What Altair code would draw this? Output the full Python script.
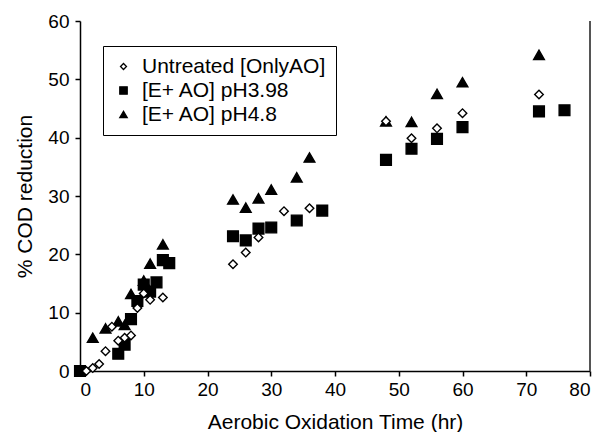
import altair as alt
import pandas as pd

series_names = ["Untreated [OnlyAO]", "[E+ AO] pH3.98", "[E+ AO] pH4.8"]

untreated_x = [1, 2, 3, 4, 5, 6, 7, 8, 9, 10, 11, 13, 24, 26, 28, 32, 36, 48, 52, 56, 60, 72]
untreated_y = [0.0, 0.5, 1.2, 3.4, 7.6, 5.2, 5.7, 6.1, 10.8, 13.3, 12.2, 12.6, 18.3, 20.3, 22.9, 27.4, 27.9, 42.8, 39.9, 41.6, 44.2, 47.4]

ph398_x = [0, 6, 7, 8, 9, 10, 11, 12, 13, 14, 24, 26, 28, 30, 34, 38, 48, 52, 56, 60, 72, 76]
ph398_y = [0.0, 2.95, 4.5, 8.9, 12.0, 14.8, 13.6, 15.2, 19.0, 18.5, 23.1, 22.4, 24.4, 24.6, 25.8, 27.5, 36.2, 38.1, 39.8, 41.8, 44.5, 44.7]

ph48_x = [2, 4, 6, 7, 8, 10, 11, 13, 24, 26, 28, 30, 34, 36, 48, 52, 56, 60, 72]
ph48_y = [5.7, 7.3, 8.5, 7.9, 13.2, 15.5, 18.4, 21.7, 29.4, 28.0, 29.6, 31.1, 33.2, 36.6, 42.8, 42.7, 47.5, 49.5, 54.2]

x_ticks = [0, 10, 20, 30, 40, 50, 60, 70, 80]
y_ticks = [0, 10, 20, 30, 40, 50, 60]

rows = []
# draw order: triangles, squares, diamonds (diamonds on top)
for xs, ys, name in [(ph48_x, ph48_y, series_names[2]),
                     (ph398_x, ph398_y, series_names[1]),
                     (untreated_x, untreated_y, series_names[0])]:
    for xv, yv in zip(xs, ys):
        rows.append({"time": xv, "cod": yv, "series": name})
df = pd.DataFrame(rows)

FONT = "Liberation Sans"
DIAMOND = "M-0.8,0L0,-0.8L0.8,0L0,0.8Z"

x_enc = alt.X("time:Q", scale=alt.Scale(domain=[0, 80], nice=False, zero=False),
              axis=alt.Axis(values=x_ticks, title="Aerobic Oxidation Time (hr)", grid=False,
                            labelPadding=4, titlePadding=12))
y_enc = alt.Y("cod:Q", scale=alt.Scale(domain=[0, 60], nice=False),
              axis=alt.Axis(values=y_ticks, title="% COD reduction", grid=False,
                            labelPadding=6, titlePadding=12))

legend = alt.Legend(
    title=None, orient="none", legendX=23, legendY=25,
    strokeColor="black", fillColor="white", padding=10,
    labelFontSize=21, labelFont=FONT, labelColor="black", labelLimit=400,
    rowPadding=2, labelOffset=8, symbolStrokeWidth=1.3, symbolSize=55,
)

points = alt.Chart(df).mark_point(strokeWidth=1.4, opacity=1, size=115).encode(
    x=x_enc,
    y=y_enc,
    shape=alt.Shape("series:N", scale=alt.Scale(domain=series_names, range=[DIAMOND, "square", "triangle-up"]), legend=legend),
    fill=alt.Fill("series:N", scale=alt.Scale(domain=series_names, range=["white", "black", "black"]), legend=legend),
    color=alt.value("black"),
)

frame_df = pd.DataFrame({"x": [80], "y0": [0], "y1": [60]})
frame = alt.Chart(frame_df).mark_rule(color="#555555", strokeWidth=2).encode(
    x="x:Q", y="y0:Q", y2="y1:Q"
)

chart = alt.layer(frame, points).properties(
    width=510, height=350,
    background="white",
    autosize=alt.AutoSizeParams(type="none"),
    padding={"left": 72, "top": 13, "right": 12, "bottom": 61},
).configure_view(stroke=None).configure_axis(
    labelFont=FONT, titleFont=FONT, labelFontSize=19, titleFontSize=21,
    titleFontWeight="normal", labelColor="black", titleColor="black",
    domainColor="black", tickColor="black", domainWidth=1.5, tickWidth=1.5, tickSize=5,
)

chart.save("out.html", embed_options={"renderer": "svg", "actions": False})
